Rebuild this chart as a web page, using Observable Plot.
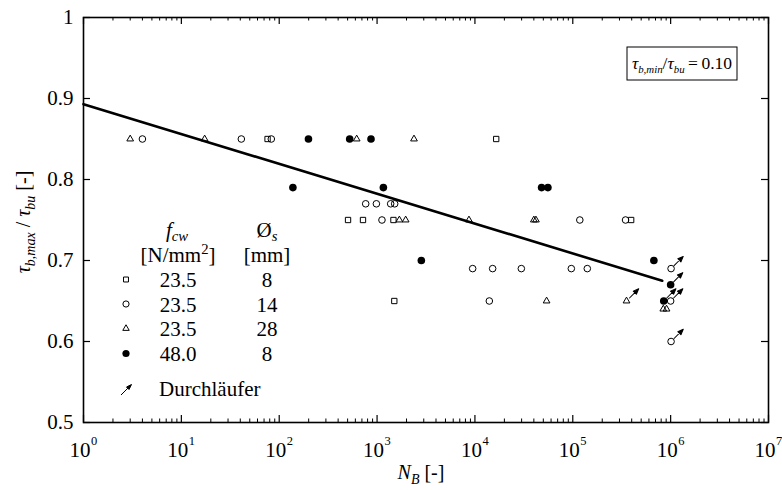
<!DOCTYPE html>
<html><head><meta charset="utf-8">
<script src="https://cdn.jsdelivr.net/npm/d3@7"></script>
<script src="https://cdn.jsdelivr.net/npm/@observablehq/plot@0.6"></script>
<style>body{margin:0;background:#fff} svg{display:block}</style>
</head><body><div id="chart"></div>
<script>
// ---- data ----
// f_cw = 23.5, Ø_s = 8 mm (open squares)
const sqN = [76, 16500, 505, 718, 1470, 395000, 1500];
const sqT = [0.85, 0.85, 0.75, 0.75, 0.75, 0.75, 0.65];
// f_cw = 23.5, Ø_s = 14 mm (open circles)
const ciN = [4.0, 41, 83, 765, 984, 1377, 1513, 1122, 118000, 346000, 9480, 15170, 29800, 96600, 140700, 14030, 1010000, 1000000, 1010000];
const ciT = [0.85, 0.85, 0.85, 0.77, 0.77, 0.77, 0.77, 0.75, 0.75, 0.75, 0.69, 0.69, 0.69, 0.69, 0.69, 0.65, 0.69, 0.65, 0.60];
// f_cw = 23.5, Ø_s = 28 mm (open triangles)
const trN = [3.0, 17.3, 619, 2384, 1690, 1960, 8690, 40000, 42000, 54000, 354000, 841000, 908000];
const trT = [0.85, 0.85, 0.85, 0.85, 0.75, 0.75, 0.75, 0.75, 0.75, 0.65, 0.65, 0.64, 0.64];
// f_cw = 48.0, Ø_s = 8 mm (filled circles)
const fiN = [199, 525, 867, 138, 1160, 48000, 55700, 2834, 674000, 1000000, 850000];
const fiT = [0.85, 0.85, 0.85, 0.79, 0.79, 0.79, 0.79, 0.70, 0.70, 0.67, 0.65];
// run-outs (Durchläufer)
const runN = [354000, 1010000, 1000000, 1010000, 1000000, 850000];
const runT = [0.65, 0.69, 0.65, 0.60, 0.67, 0.65];
// regression line end points
const fitN = [1, 820000];
const fitT = [0.893, 0.675];
// ticks
const yTicks = [0.5, 0.6, 0.7, 0.8, 0.9, 1.0];
const yTickLabels = ["0.5", "0.6", "0.7", "0.8", "0.9", "1"];
const xMajor = [1, 10, 100, 1000, 10000, 100000, 1000000, 10000000];
const xExp = ["0", "1", "2", "3", "4", "5", "6", "7"];
const xMinor = [];
for (let k = 0; k < 7; k++) for (let m = 2; m <= 9; m++) xMinor.push(m * Math.pow(10, k));
// legend
const legF = ["23.5", "23.5", "23.5", "48.0"];
const legD = ["8", "14", "28", "8"];
const legSym = ["square", "circle", "triangle", "filled"];

// ---- layout ----
const W = 782, H = 490, ML = 83, MR = 14, MT = 17, MB = 68;
const FW = W - ML - MR, FH = H - MT - MB;
const FONT = "Liberation Serif";
const FS = 21;

const pts = (N, T) => N.map((n, i) => ({n, t: T[i]}));
const arrowShape = {
  draw(context, l) {
    context.moveTo(0, 0);
    context.lineTo(0, -l + 4);
    context.moveTo(0, -l);
    context.lineTo(-2.2, -l + 5.5);
    context.lineTo(2.2, -l + 5.5);
    context.closePath();
  }
};

const plot = Plot.plot({
  width: W, height: H,
  marginLeft: ML, marginRight: MR, marginTop: MT, marginBottom: MB,
  style: {fontFamily: FONT, fontSize: FS + "px", color: "black", background: "white"},
  x: {type: "log", domain: [1, 1e7], axis: null},
  y: {domain: [0.5, 1], axis: null},
  marks: [
    // inward ticks
    Plot.tickY(yTicks, {y: d => d, insetRight: FW - 7, stroke: "black", strokeWidth: 1.2}),
    Plot.tickY(yTicks, {y: d => d, insetLeft: FW - 7, stroke: "black", strokeWidth: 1.2}),
    Plot.tickX(xMajor, {x: d => d, insetTop: FH - 7, stroke: "black", strokeWidth: 1.2}),
    Plot.tickX(xMajor, {x: d => d, insetBottom: FH - 7, stroke: "black", strokeWidth: 1.2}),
    Plot.tickX(xMinor, {x: d => d, insetTop: FH - 3.5, stroke: "black", strokeWidth: 1}),
    Plot.tickX(xMinor, {x: d => d, insetBottom: FH - 3.5, stroke: "black", strokeWidth: 1}),
    Plot.frame({stroke: "black", strokeWidth: 1.6}),
    // tick labels
    Plot.text(yTicks, {y: d => d, text: (d, i) => yTickLabels[i], frameAnchor: "left", dx: -10, textAnchor: "end", fontSize: FS, fill: "black"}),
    Plot.text(xMajor, {x: d => d, text: () => "10", frameAnchor: "bottom", dx: 7, dy: 34.5, textAnchor: "end", lineAnchor: "bottom", fontSize: FS, fill: "black"}),
    Plot.text(xMajor, {x: d => d, text: (d, i) => xExp[i], frameAnchor: "bottom", dx: 7.5, dy: 22.5, textAnchor: "start", lineAnchor: "bottom", fontSize: 12.5, fill: "black"}),
    // regression line
    Plot.line(pts(fitN, fitT), {x: "n", y: "t", stroke: "black", strokeWidth: 2.6}),
    // data points
    Plot.dot(pts(sqN, sqT), {x: "n", y: "t", symbol: "square", r: 3, stroke: "black", strokeWidth: 1, fill: "none"}),
    Plot.dot(pts(ciN, ciT), {x: "n", y: "t", symbol: "circle", r: 3.3, stroke: "black", strokeWidth: 1, fill: "none"}),
    Plot.dot(pts(trN, trT), {x: "n", y: "t", symbol: "triangle", r: 2.5, stroke: "black", strokeWidth: 1, fill: "none"}),
    Plot.dot(pts(fiN, fiT), {x: "n", y: "t", symbol: "circle", r: 3.8, fill: "black", stroke: "none"}),
    // run-out arrows
    Plot.vector(pts(runN, runT), {x: "n", y: "t", rotate: 45, length: 13, anchor: "start", dx: 3, dy: -3, shape: arrowShape, stroke: "black", fill: "black", strokeWidth: 1})
  ]
});
document.getElementById("chart").appendChild(plot);

// ---- rich text (sub/superscripts, italics) ----
const svg = d3.select(plot);
function rich(x, y, parts, {anchor = "start", size = FS, rotate = 0, subScale = 0.7, subShift = 0.25} = {}) {
  const t = svg.append("text").attr("x", x).attr("y", y)
    .attr("text-anchor", anchor).attr("font-size", size)
    .attr("font-family", FONT).attr("fill", "black");
  if (rotate) t.attr("transform", `rotate(${rotate},${x},${y})`);
  let shift = 0;
  for (const [s, st = ""] of parts) {
    const sub = st.includes("sub"), sup = st.includes("sup");
    const target = sub ? subShift * size : sup ? -0.4 * size : 0;
    const span = t.append("tspan").text(s).attr("dy", target - shift);
    shift = target;
    if (sub || sup) span.attr("font-size", size * subScale);
    if (st.startsWith("i")) span.attr("font-style", "italic");
  }
  return t;
}

// axis titles
rich(30, 222, [["τ", "i"], ["b,max", "isub"], [" / ", ""], ["τ", "i"], ["bu", "isub"], [" [-]", ""]], {anchor: "middle", rotate: -90, size: 20});
rich(421, 479, [["N", "i"], ["B", "isub"], [" [-]", ""]], {anchor: "middle", size: 20});

// boxed annotation
svg.append("rect").attr("x", 627).attr("y", 47).attr("width", 110).attr("height", 33)
  .attr("fill", "white").attr("stroke", "black").attr("stroke-width", 1);
rich(682, 69, [["τ", "i"], ["b,min", "isub"], ["/", ""], ["τ", "i"], ["bu", "isub"], ["\u2009=\u20090.10", ""]], {anchor: "middle", size: 17.5, subScale: 0.62, subShift: 0.22});

// legend
rich(177, 237, [["f", "i"], ["cw", "isub"]], {anchor: "middle", subShift: 0.18});
rich(267, 237, [["Ø", ""], ["s", "isub"]], {anchor: "middle", subShift: 0.18});
rich(178, 262, [["[N/mm", ""], ["2", "sup"], ["]", ""]], {anchor: "middle"});
rich(267, 262, [["[mm]", ""]], {anchor: "middle"});
const legY = [279.5, 304, 328.5, 353.5];
legSym.forEach((s, i) => {
  const type = s === "square" ? d3.symbolSquare : s === "triangle" ? d3.symbolTriangle : d3.symbolCircle;
  const r = s === "square" ? 2.8 : s === "triangle" ? 2.4 : s === "filled" ? 3.6 : 3.1;
  svg.append("path").attr("d", d3.symbol(type, Math.PI * r * r)())
    .attr("transform", `translate(126,${legY[i]})`)
    .attr("fill", s === "filled" ? "black" : "none")
    .attr("stroke", s === "filled" ? "none" : "black").attr("stroke-width", 1);
  rich(178, legY[i] + 7.5, [[legF[i], ""]], {anchor: "middle"});
  rich(267, legY[i] + 7.5, [[legD[i], ""]], {anchor: "middle"});
});
svg.append("path").attr("d", "M121,395L128,388M131.5,384.5L126.5,387L129,389.5Z")
  .attr("stroke", "black").attr("fill", "black").attr("stroke-width", 1);
rich(159, 396, [["Durchläufer", ""]], {anchor: "start"});
</script>
</body></html>
